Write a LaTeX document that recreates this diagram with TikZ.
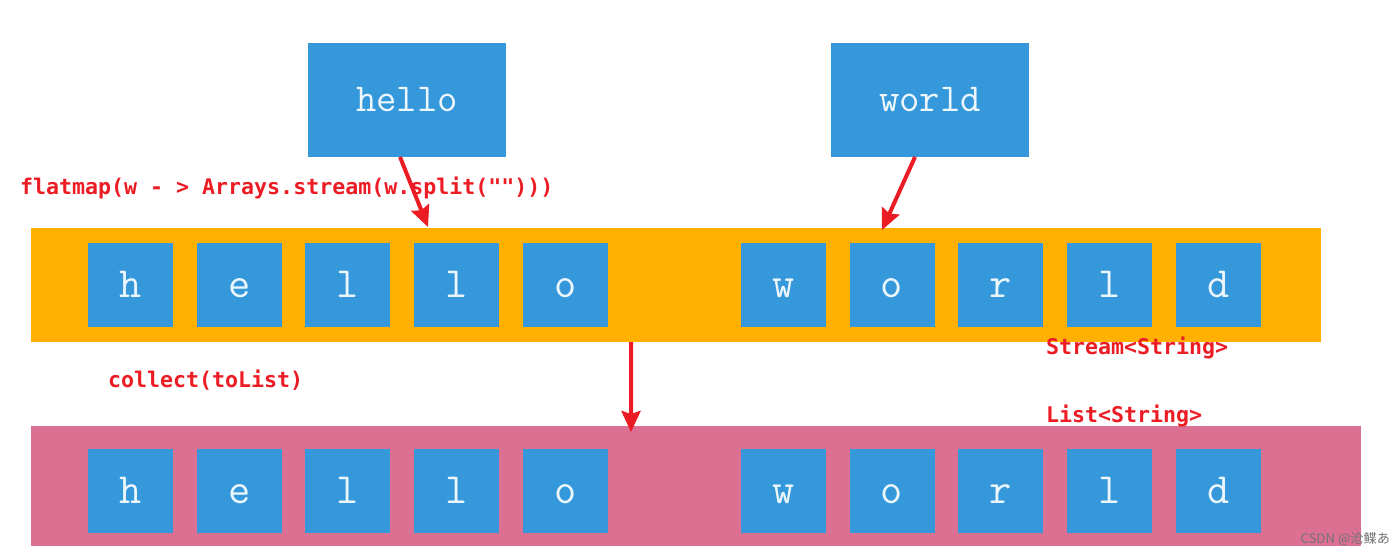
\documentclass[tikz,border=0pt]{standalone}
\usepackage{fontspec}
\usepackage{tikz}
\usetikzlibrary{arrows.meta,positioning}
\newfontfamily\codefont{DejaVu Sans Mono}
\newfontfamily\marcafont{Noto Sans CJK SC}
\definecolor{caja}{RGB}{52,152,219}
\definecolor{naranja}{RGB}{255,176,0}
\definecolor{rosa}{RGB}{220,112,147}
\definecolor{rojo}{RGB}{236,28,36}
\definecolor{letrablanca}{RGB}{236,246,252}

\begin{document}
\begin{tikzpicture}[>={Stealth[length=0.42cm,width=0.38cm,inset=0.06cm]}, node distance=0.474cm, inner sep=0pt, outer sep=0pt]
				\tikzstyle{banda}=[minimum height=2.28cm]
				\tikzstyle{palabra}=[fill=caja, text=letrablanca, minimum width=3.96cm, minimum height=2.28cm, text height=0.46cm, text depth=0cm, font=\ttfamily\fontsize{22.5}{22.5}\selectfont]
				\tikzstyle{letra}=[fill=caja, text=letrablanca, minimum width=1.7cm, minimum height=1.68cm, text height=0.48cm, text depth=0cm, font=\ttfamily\fontsize{24.5}{24.5}\selectfont]
				\tikzstyle{etiqueta}=[anchor=west, text=rojo, font=\codefont\bfseries\fontsize{12.3}{14}\selectfont]
				\tikzstyle{flecha}=[->, draw=rojo, line width=0.08cm]

				\useasboundingbox (0,0) rectangle (27.94,-11.12);

				%BANDAS
				\node[banda, fill=naranja, minimum width=25.8cm]			(stream) at (13.52,-5.70)	{};
				\node[banda, fill=rosa, minimum width=26.6cm, minimum height=2.4cm]	(lista) at (13.92,-9.72)	{};

				%PALABRAS
				\node[palabra]	(hello) at (8.14,-2.0)		{hello};
				\node[palabra]	(world) at (18.6,-2.0)		{world};

				%LETRAS STREAM
				\node[letra]	(s1) at (2.61,-5.70)		{h};
				\node[letra]	(s2) [right=of s1]		{e};
				\node[letra]	(s3) [right=of s2]		{l};
				\node[letra]	(s4) [right=of s3]		{l};
				\node[letra]	(s5) [right=of s4]		{o};
				\node[letra]	(s6) [right=2.66cm of s5]	{w};
				\node[letra]	(s7) [right=of s6]		{o};
				\node[letra]	(s8) [right=of s7]		{r};
				\node[letra]	(s9) [right=of s8]		{l};
				\node[letra]	(s10) [right=of s9]		{d};

				%LETRAS LISTA
				\node[letra]	(l1) at (2.61,-9.82)		{h};
				\node[letra]	(l2) [right=of l1]		{e};
				\node[letra]	(l3) [right=of l2]		{l};
				\node[letra]	(l4) [right=of l3]		{l};
				\node[letra]	(l5) [right=of l4]		{o};
				\node[letra]	(l6) [right=2.66cm of l5]	{w};
				\node[letra]	(l7) [right=of l6]		{o};
				\node[letra]	(l8) [right=of l7]		{r};
				\node[letra]	(l9) [right=of l8]		{l};
				\node[letra]	(l10) [right=of l9]		{d};

				%TEXTOS
				\node[etiqueta]	(flatmap) at (0.40,-3.76)	{flatmap(w - > Arrays.stream(w.split("")))};
				\node[etiqueta]	(collect) at (2.16,-7.60)	{collect(toList)};
				\node[etiqueta]	(tstream) at (20.92,-6.96)	{Stream<String>};
				\node[etiqueta]	(tlista) at (20.92,-8.32)	{List<String>};
				\node[anchor=east, text=black!55, font=\marcafont\fontsize{7.5}{8}\selectfont]	(marca) at (27.8,-10.78)	{CSDN @沧鲽あ};

				%FLECHAS
				\coordinate (p1) at (8.56,-4.54);
				\coordinate (p2) at (17.64,-4.60);
				\coordinate (p3) at (12.62,-8.64);
				\draw[flecha] ([xshift=-0.14cm]hello.south) -- (p1);
				\draw[flecha] ([xshift=-0.30cm]world.south) -- (p2);
				\draw[flecha] ([xshift=-0.90cm]stream.south) -- (p3);
\end{tikzpicture}
\end{document}
